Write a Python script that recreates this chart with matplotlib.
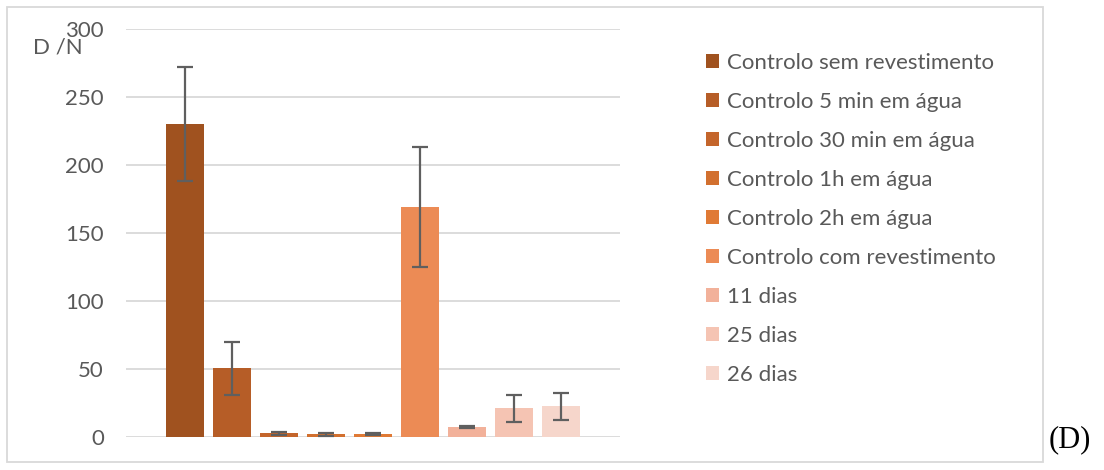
import matplotlib.pyplot as plt
from matplotlib.patches import Rectangle, Patch
import numpy as np

plt.rcParams['font.family'] = ['Lato', 'DejaVu Sans']

# Dados: força de descolamento D (N) por condição
condicoes = ['Controlo sem revestimento', 'Controlo 5 min em água',
             'Controlo 30 min em água', 'Controlo 1h em água',
             'Controlo 2h em água', 'Controlo com revestimento',
             '11 dias', '25 dias', '26 dias']
valores = [230, 50.5, 2.8, 2.0, 2.0, 169, 7.5, 21, 22.5]
erros = [42, 19.5, 1.0, 1.0, 0.6, 44, 0.7, 10.2, 10.2]
cores = ['#A0521F', '#B65D27', '#C4652B', '#D2702F', '#E07A35',
         '#EC8B55', '#F2B19A', '#F5C4B3', '#F6D6CB']
y_ticks = [0, 50, 100, 150, 200, 250, 300]

W, H = 1104, 470
fig = plt.figure(figsize=(W / 100, H / 100), dpi=100)
ax = fig.add_axes([126 / W, 1 - 437 / H, (620 - 126) / W, (437 - 29) / H])

x = np.arange(len(valores))
ax.bar(x, valores, width=0.81, color=cores, zorder=2)
ax.errorbar(x, valores, yerr=erros, fmt='none', ecolor='#5F5F5F',
            elinewidth=1.6, capsize=6, capthick=1.6, zorder=3)

ax.set_xlim(-1.26, 8 + 1.26)
ax.set_ylim(0, 300)
ax.set_yticks(y_ticks)
ax.set_xticks([])
ax.yaxis.grid(True, color='#D9D9D9', linewidth=1.3, zorder=0)
ax.tick_params(axis='y', length=0, pad=16, labelsize=16, labelcolor='#595959')
for s in ax.spines.values():
    s.set_visible(False)

fig.text(33 / W, 1 - 48 / H, 'D /N', fontsize=16, color='#595959', va='center')

handles = [Patch(facecolor=c, edgecolor='none') for c in cores]
fig.legend(handles, condicoes, loc='upper left', bbox_to_anchor=(706 / W, 1 - 53 / H),
           frameon=False, fontsize=16, labelcolor='#595959',
           borderpad=0, borderaxespad=0,
           handlelength=0.58, handleheight=0.58, handletextpad=0.38,
           labelspacing=0.855)

# moldura do gráfico
fig.patches.append(Rectangle((7 / W, 1 - 462 / H), (1043 - 7) / W, (462 - 7) / H,
                             transform=fig.transFigure, fill=False,
                             edgecolor='#D9D9D9', linewidth=1.3))

fig.text(1049 / W, 1 - 440 / H, '(D)', fontsize=22, family='Liberation Serif',
         color='black', va='center')

fig.savefig('out.png', dpi=100)
plt.close(fig)
